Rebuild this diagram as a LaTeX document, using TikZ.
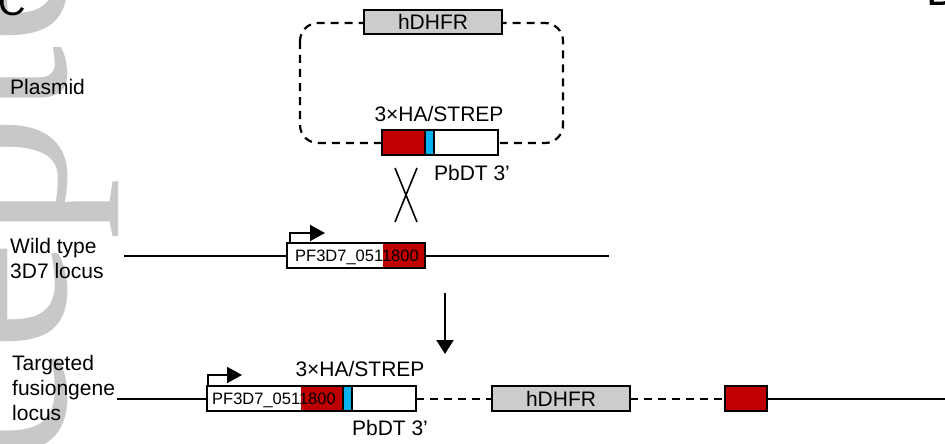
\documentclass[tikz,border=0pt]{standalone}
\usepackage{fontspec}
\setmainfont{Liberation Sans}
\newfontfamily\wmfont{Liberation Serif}
\usetikzlibrary{arrows.meta}
\definecolor{dred}{HTML}{C00000}
\definecolor{sblue}{HTML}{00B0F0}
\definecolor{lgray}{HTML}{CCCCCC}
\definecolor{wmgray}{HTML}{C8C8C8}
\begin{document}
\begin{tikzpicture}[x=1pt,y=-1pt,
  lbl/.style={anchor=base west, inner sep=0, font=\fontsize{21}{25}\selectfont},
  gtxt/.style={anchor=base west, inner sep=0, font=\fontsize{16.5}{20}\selectfont},
  seg/.style={draw=black, line width=2.2pt, minimum height=25pt, inner sep=0, outer sep=0, anchor=west},
  fillseg/.style={minimum height=25pt, inner sep=0, outer sep=0, anchor=west},
  locus/.style={line width=2pt},
  dashline/.style={line width=2pt, dash pattern=on 8pt off 6pt},
  prom/.style={line width=1.8pt, -{Triangle[length=15pt,width=16pt]}},
]
\useasboundingbox (0,0) rectangle (945,444);
\clip (0,0) rectangle (945,444);

% watermark
\node[rotate=90, anchor=base west, inner sep=0, text=wmgray, font=\wmfont\fontsize{250}{250}\selectfont] (wm) at (65,754) {Accepted};

% panel labels (partly cut)
\node[anchor=base west, inner sep=0, font=\fontsize{38}{40}\selectfont] (panelC) at (-2,16) {C};
\node[anchor=base west, inner sep=0, font=\fontsize{45}{48}\selectfont] (panelD) at (926,6) {D};

% row labels
\node[lbl] (lplasmid) at (10,95) {Plasmid};
\node[lbl] (lwt1) at (10,253) {Wild type};
\node[lbl] (lwt2) at (10,278) {3D7 locus};
\node[lbl] (lt1) at (12,370) {Targeted};
\node[lbl] (lt2) at (12,395) {fusiongene};
\node[lbl] (lt3) at (12,420) {locus};

% ---------- plasmid ----------
\draw[line width=2.2pt, dash pattern=on 8pt off 6pt, rounded corners=18pt] (300,23) rectangle (563,143);
\node[seg, fill=lgray, minimum width=138pt, minimum height=24pt, font=\fontsize{21}{25}\selectfont] (phdhfr) at (364,22) {hDHFR};
\node[seg, fill=dred, minimum width=43pt] (pred) at (382,142.5) {};
\node[seg, fill=sblue, minimum width=9pt] (pblue) at (pred.east) {};
\node[seg, fill=white, minimum width=64pt] (putr) at (pblue.east) {};
\node[ctxt/.style={}, inner sep=0, font=\fontsize{21}{25}\selectfont] (ptag) at (439,114) {3×HA/STREP};
\node[inner sep=0, font=\fontsize{21}{25}\selectfont] (putrl) at (472,173) {PbDT 3’};

% crossover
\coordinate (xa) at (395,168);
\coordinate (xb) at (417,222);
\coordinate (xc) at (417,168);
\coordinate (xd) at (395,222);
\draw[line width=1.6pt] (xa) -- (xb);
\draw[line width=1.6pt] (xc) -- (xd);

% ---------- wild type ----------
\coordinate (wtL) at (124,255.5);
\coordinate (wtR) at (609,255.5);
\node[fillseg, fill=dred, minimum width=42pt] (wtred) at (383,255.5) {};
\node[seg, minimum width=138pt] (wtgene) at (287,255.5) {};
\node[gtxt] (wtname) at (295,261.5) {PF3D7\_0511800};
\draw[locus] (wtL) -- (wtgene.west);
\draw[locus] (wtgene.east) -- (wtR);
\draw[prom] ([xshift=3pt]wtgene.north west) -- ++(0,-10) -- ++(35,0);

% arrow down
\coordinate (arrtop) at (445,293);
\coordinate (arrbot) at (445,354);
\draw[line width=2pt, -{Triangle[length=14pt,width=17pt]}] (arrtop) -- (arrbot);

% ---------- targeted locus ----------
\coordinate (tL) at (117,398.5);
\coordinate (tR) at (950,398.5);
\node[fillseg, fill=dred, minimum width=42pt] (tgred) at (301,398.5) {};
\node[seg, minimum width=136pt] (tgene) at (207,398.5) {};
\node[gtxt] (tname) at (212,404.5) {PF3D7\_0511800};
\node[seg, fill=sblue, minimum width=9pt] (tblue) at (tgene.east) {};
\node[seg, fill=white, minimum width=64pt] (tutr) at (tblue.east) {};
\node[seg, fill=lgray, minimum width=138pt, font=\fontsize{21}{25}\selectfont] (thdhfr) at (492,398.5) {hDHFR};
\node[seg, fill=dred, minimum width=42pt] (tred) at (725,398.5) {};
\draw[locus] (tL) -- (tgene.west);
\draw[dashline] (tutr.east) -- (thdhfr.west);
\draw[dashline] (thdhfr.east) -- (tred.west);
\draw[locus] (tred.east) -- (tR);
\draw[prom] ([xshift=1pt]tgene.north west) -- ++(0,-11) -- ++(34,0);
\node[inner sep=0, font=\fontsize{21}{25}\selectfont] (ttag) at (360,369) {3×HA/STREP};
\node[inner sep=0, font=\fontsize{21}{25}\selectfont] (tutrl) at (390,428) {PbDT 3’};
\end{tikzpicture}
\end{document}
